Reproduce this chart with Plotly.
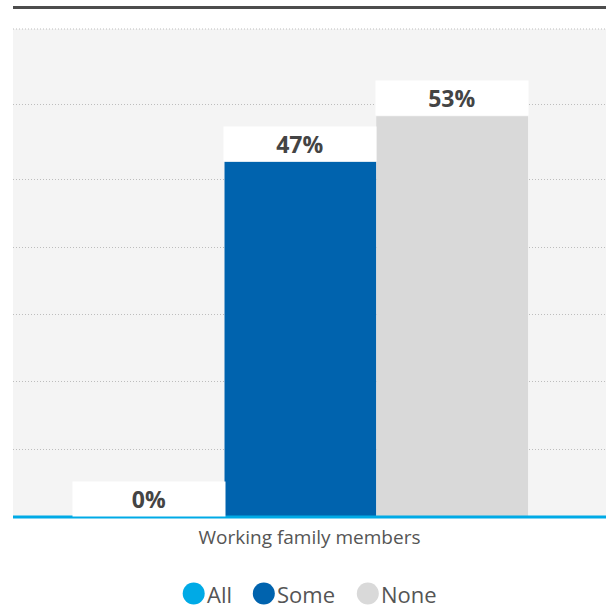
import plotly.graph_objects as go

# ---- data ----
CATEGORY = "Working family members"
SERIES = ["All", "Some", "None"]
VALUES = [0, 47, 53]
LABELS = ["0%", "47%", "53%"]
COLORS = ["#00aae6", "#0063ae", "#d9d9d9"]
GRID_VALUES = [8.90, 17.86, 26.76, 35.71, 44.62, 54.63]
Y_MAX = 64.55

# ---- layout constants ----
W, H = 606, 608
ML, MR, MT, MB = 13, 0, 29, 91
PW = W - ML - MR
PH = H - MT - MB
BARGAP = 0.2
UNIT_PX = 569.1               # px per category unit
GROUP_CENTER_PX = 300.4       # absolute px of category centre
x0 = -(GROUP_CENTER_PX - ML) / UNIT_PX
x1 = x0 + PW / UNIT_PX
BAR_PX = (1 - BARGAP) * UNIT_PX / len(SERIES)
GRID_COLOR = "#bdbdbd"
GRID_DASH = "1px,2px"

fig = go.Figure()
for name, val, col in zip(SERIES, VALUES, COLORS):
    fig.add_trace(go.Bar(x=[CATEGORY], y=[val], name=name,
                         marker=dict(color=col, line=dict(width=0)),
                         showlegend=False, hoverinfo="skip"))

annotations = []
n = len(SERIES)
for i, (val, lab) in enumerate(zip(VALUES, LABELS)):
    annotations.append(dict(
        x=CATEGORY, y=val, xref="x", yref="y",
        xshift=(i - (n - 1) / 2) * BAR_PX,
        yanchor="bottom", xanchor="center",
        text="<b>%s</b>" % lab, showarrow=False,
        width=BAR_PX, height=34, bgcolor="#ffffff", borderpad=0,
        font=dict(family="Open Sans", size=23, color="#444444"),
    ))

shapes = []
# top dark rule
shapes.append(dict(type="line", xref="paper", yref="paper", x0=0, x1=1,
                   y0=(PH + 21.5) / PH, y1=(PH + 21.5) / PH,
                   line=dict(color="#4d4d4d", width=3)))
# top dotted gridline
shapes.append(dict(type="line", xref="paper", yref="paper", x0=0, x1=1,
                   y0=1, y1=1, line=dict(color=GRID_COLOR, width=1, dash=GRID_DASH)))
# bottom axis line
shapes.append(dict(type="line", xref="paper", yref="paper", x0=0, x1=1,
                   y0=0, y1=0, line=dict(color=COLORS[0], width=3)))

# custom legend (circle + text) built from the series
leg_centers_px = [193.7, 263.8, 367.8]
leg_y_px = 593.5
R_PX = 11
for name, col, cx in zip(SERIES, COLORS, leg_centers_px):
    shapes.append(dict(type="circle", xref="paper", yref="paper",
                       x0=(cx - R_PX - ML) / PW, x1=(cx + R_PX - ML) / PW,
                       y0=(MT + PH - leg_y_px - R_PX) / PH,
                       y1=(MT + PH - leg_y_px + R_PX) / PH,
                       fillcolor=col, line=dict(width=0)))
    annotations.append(dict(
        x=(cx + R_PX + 1 - ML) / PW, y=(MT + PH - leg_y_px) / PH,
        xref="paper", yref="paper", xanchor="left", yanchor="middle",
        text=name, showarrow=False, borderpad=0,
        font=dict(family="Open Sans", size=22, color="#555555"),
    ))

fig.update_layout(
    width=W, height=H, autosize=False,
    margin=dict(l=ML, r=MR, t=MT, b=MB, pad=0),
    paper_bgcolor="#ffffff", plot_bgcolor="#f4f4f4",
    barmode="group", bargap=BARGAP, bargroupgap=0,
    showlegend=False,
    annotations=annotations, shapes=shapes,
    xaxis=dict(range=[x0, x1], showticklabels=False, showgrid=False,
               zeroline=False, showline=False, ticks="",
               title=dict(text=CATEGORY, standoff=13,
                          font=dict(family="Open Sans", size=19, color="#555555"))),
    yaxis=dict(range=[0, Y_MAX], tickvals=GRID_VALUES, showticklabels=False,
               showgrid=True, gridcolor=GRID_COLOR, griddash=GRID_DASH, gridwidth=1,
               zeroline=False, showline=False, ticks=""),
)

fig.write_html(
    "out.html",
    config={"displayModeBar": False},
    post_script="document.body.style.margin='0';document.body.style.overflow='hidden';",
)
